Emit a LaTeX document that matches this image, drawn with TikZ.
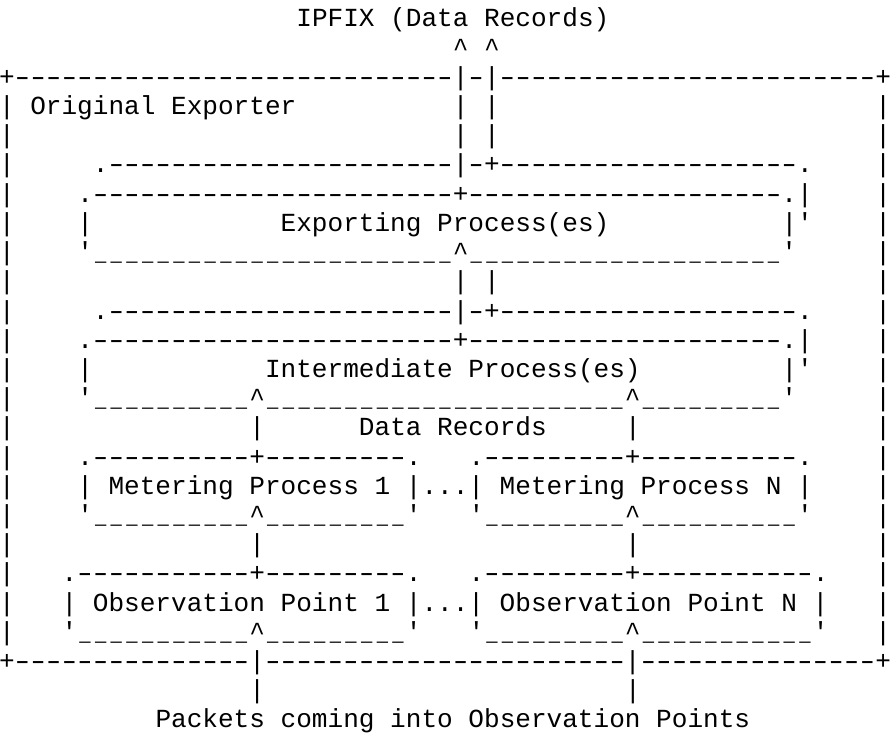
\documentclass[tikz,border=0pt]{standalone}
\usepackage{fontspec}
\usepackage{graphicx}
\setmonofont{Liberation Mono}
\ExplSyntaxOn
\cs_new:Npn \Rpt #1#2 { \prg_replicate:nn {#1} {#2} }
\ExplSyntaxOff
\newcommand{\hy}{\makebox[0.6em][c]{\scalebox{1.45}[1]{-}}}
\newcommand{\us}{\makebox[0.6em][c]{\scalebox{0.72}[1]{\_}}}
\newcommand{\Dh}[1]{\Rpt{#1}{\hy}}
\newcommand{\Us}[1]{\Rpt{#1}{\us}}
\newcommand{\Ct}{\textasciicircum}
\newcommand{\Seg}[4]{\node[asc] (#1) at ({#3*15.65-1},{27+(#2-1)*29.2}) {#4};}
\tikzset{asc/.style={anchor=base west, inner sep=0pt, outer sep=0pt,
  font=\ttfamily\fontsize{19.56pt}{22pt}\selectfont}}
\begin{document}
\begin{tikzpicture}[x=0.75pt,y=-0.75pt]
\useasboundingbox (0,0) rectangle (892,738);
\fill[white] (0,0) rectangle (892,738);
% outer frame sides
\foreach \r in {4,...,22}{
  \Seg{fl\r}{\r}{0}{|}
  \Seg{fr\r}{\r}{56}{|}
}
\Seg{r1}{1}{19}{IPFIX (Data Records)}
\Seg{r2}{2}{29}{\Ct~\Ct}
\Seg{r3}{3}{0}{+\Dh{28}|\hy|\Dh{24}+}
\Seg{r4a}{4}{2}{Original Exporter}
\Seg{r4b}{4}{29}{|~|}
\Seg{r5}{5}{29}{|~|}
\Seg{r6}{6}{6}{.\Dh{22}|\hy+\Dh{19}.}
\Seg{r7}{7}{5}{.\Dh{23}+\Dh{20}.|}
\Seg{r8a}{8}{5}{|}
\Seg{r8b}{8}{18}{Exporting Process(es)}
\Seg{r8c}{8}{50}{|'}
\Seg{r9}{9}{5}{'\Us{23}\Ct\Us{20}'}
\Seg{r10}{10}{29}{|~|}
\Seg{r11}{11}{6}{.\Dh{22}|\hy+\Dh{19}.}
\Seg{r12}{12}{5}{.\Dh{23}+\Dh{20}.|}
\Seg{r13a}{13}{5}{|}
\Seg{r13b}{13}{17}{Intermediate Process(es)}
\Seg{r13c}{13}{50}{|'}
\Seg{r14}{14}{5}{'\Us{10}\Ct\Us{23}\Ct\Us{9}'}
\Seg{r15a}{15}{16}{|}
\Seg{r15b}{15}{23}{Data Records}
\Seg{r15c}{15}{40}{|}
\Seg{r16a}{16}{5}{.\Dh{10}+\Dh{9}.}
\Seg{r16b}{16}{30}{.\Dh{9}+\Dh{10}.}
\Seg{r17}{17}{5}{| Metering Process 1 |...| Metering Process N |}
\Seg{r18a}{18}{5}{'\Us{10}\Ct\Us{9}'}
\Seg{r18b}{18}{30}{'\Us{9}\Ct\Us{10}'}
\Seg{r19a}{19}{16}{|}
\Seg{r19b}{19}{40}{|}
\Seg{r20a}{20}{4}{.\Dh{11}+\Dh{9}.}
\Seg{r20b}{20}{30}{.\Dh{9}+\Dh{11}.}
\Seg{r21}{21}{4}{| Observation Point 1 |...| Observation Point N |}
\Seg{r22a}{22}{4}{'\Us{11}\Ct\Us{9}'}
\Seg{r22b}{22}{30}{'\Us{9}\Ct\Us{11}'}
\Seg{r23}{23}{0}{+\Dh{15}|\Dh{23}|\Dh{15}+}
\Seg{r24a}{24}{16}{|}
\Seg{r24b}{24}{40}{|}
\Seg{r25}{25}{10}{Packets coming into Observation Points}
\end{tikzpicture}
\end{document}
